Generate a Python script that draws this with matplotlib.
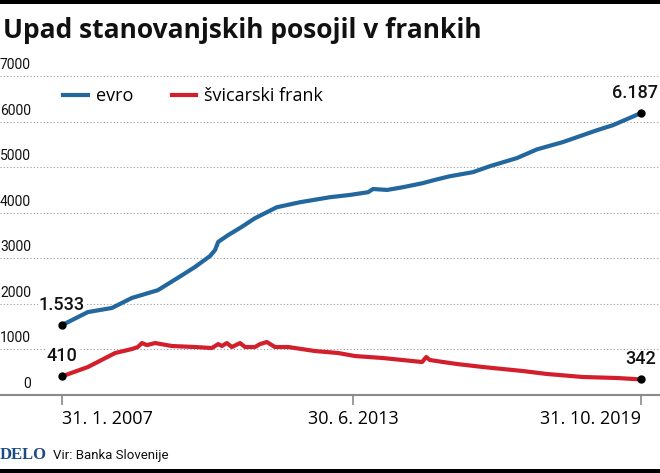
import matplotlib
matplotlib.use("Agg")
import matplotlib.pyplot as plt
from matplotlib.lines import Line2D
from matplotlib.patches import Rectangle

# podatki (odčitano s slike), čas v decimalnih letih
evro_t = [2007.08, 2007.65, 2008.18, 2008.62, 2009.19, 2009.63, 2010.01, 2010.34, 2010.45,
          2010.52, 2010.74, 2011.04, 2011.33, 2011.81, 2012.32, 2012.98, 2013.42, 2013.82,
          2013.93, 2014.24, 2014.59, 2015.03, 2015.25, 2015.62, 2016.13, 2016.50, 2017.10,
          2017.54, 2018.11, 2018.86, 2019.21, 2019.83]
evro_v = [1533, 1820, 1910, 2130, 2300, 2570, 2810, 3050, 3180,
          3360, 3510, 3690, 3880, 4120, 4230, 4340, 4390, 4450,
          4520, 4500, 4560, 4650, 4710, 4800, 4890, 5020, 5200,
          5390, 5550, 5810, 5920, 6187]

frank_t = [2007.08, 2007.65, 2008.25, 2008.62, 2008.75, 2008.84, 2008.95, 2009.13, 2009.50,
           2010.01, 2010.38, 2010.52, 2010.60, 2010.71, 2010.82, 2011.00, 2011.11, 2011.33,
           2011.44, 2011.59, 2011.77, 2012.06, 2012.65, 2013.16, 2013.53, 2014.15, 2015.01,
           2015.10, 2015.18, 2015.47, 2015.78, 2016.35, 2017.23, 2017.76, 2018.55, 2019.30,
           2019.83]
frank_v = [410, 614, 921, 1009, 1053, 1140, 1096, 1140, 1075,
           1053, 1031, 1118, 1075, 1140, 1053, 1140, 1053, 1053,
           1118, 1162, 1053, 1053, 965, 921, 855, 811, 724,
           833, 768, 724, 680, 614, 526, 461, 395, 373,
           342]

tick_t = [2007.08, 2013.49, 2019.83]
tick_labels = ["31. 1. 2007", "30. 6. 2013", "31. 10. 2019"]
y_ticks = [0, 1000, 2000, 3000, 4000, 5000, 6000, 7000]

BLUE = "#22679e"
RED = "#d21f2b"
W, H = 660, 473

fig = plt.figure(figsize=(6.6, 4.73), dpi=100)
ax = fig.add_axes([0, 78 / H, 1, 319 / H])

# os x v pikslih: 2007.08 -> 62 px, 2019.83 -> 641 px
ppy = (641 - 62) / (tick_t[2] - tick_t[0])
ax.set_xlim(tick_t[0] - 62 / ppy, tick_t[0] + (W - 62) / ppy)
ax.set_ylim(0, 7000)

ax.plot(evro_t, evro_v, color=BLUE, lw=3, solid_capstyle="round", zorder=3)
ax.plot(frank_t, frank_v, color=RED, lw=3, solid_capstyle="round", zorder=3)

for s in ["top", "left", "right"]:
    ax.spines[s].set_visible(False)
ax.spines["bottom"].set_color("#8a8a8a")
ax.spines["bottom"].set_linewidth(1.5)

ax.set_yticks(y_ticks[1:])
ax.set_yticklabels([])
ax.tick_params(axis="y", length=0)
ax.grid(axis="y", linestyle=(0, (1, 2)), color="#9a9a9a", lw=0.8)

ax.set_xticks(tick_t)
ax.set_xticklabels(tick_labels, fontsize=13, family="Open Sans")
ax.tick_params(axis="x", length=7, width=1.2, color="#8a8a8a", pad=4)
lbls = ax.get_xticklabels()
lbls[0].set_ha("left")
lbls[2].set_ha("right")

# oznake osi y nad mrežo
for v in y_ticks:
    ax.annotate(str(v), xy=(31, v), xycoords=("figure pixels", "data"),
                xytext=(0, 4), textcoords="offset pixels", ha="right", va="bottom",
                fontsize=10, family="Roboto", color="#111111")

# začetne in končne točke
pts = [(evro_t[0], evro_v[0], "1.533", 0), (evro_t[-1], evro_v[-1], "6.187", -6),
       (frank_t[0], frank_v[0], "410", 0), (frank_t[-1], frank_v[-1], "342", 0)]
for t, v, s, dx in pts:
    ax.plot([t], [v], "o", color="black", ms=5, clip_on=False, zorder=5)
    ax.annotate(s, xy=(t, v), xytext=(dx, 11), textcoords="offset pixels",
                ha="center", va="bottom", fontsize=13, family="Roboto", weight="medium",
                color="#111111", zorder=2,
                bbox=dict(boxstyle="square,pad=0.05", fc="white", ec="none"))

# legenda
def fx(px):
    return px / W

def fy(py):
    return 1 - py / H

fig.add_artist(Line2D([fx(63), fx(88)], [fy(95), fy(95)], color=BLUE, lw=3,
                      transform=fig.transFigure))
fig.text(fx(96), fy(96), "evro", fontsize=13, family="Open Sans", va="center")
fig.add_artist(Line2D([fx(172), fx(196)], [fy(95), fy(95)], color=RED, lw=3,
                      transform=fig.transFigure))
fig.text(fx(204), fy(96), "švicarski frank", fontsize=13, family="Open Sans", va="center")

# naslov
fig.text(fx(3), fy(30), "Upad stanovanjskih posojil v frankih", fontsize=19,
         family="Open Sans", weight="bold", va="center", color="#111111")

# noga
fig.text(fx(0), fy(455), "DELO", fontsize=12, family="Liberation Serif", weight="bold",
         color="#1c4a82", va="center")
fig.text(fx(53), fy(455), "Vir: Banka Slovenije", fontsize=9.5,
         family="Roboto", va="center", color="#111111")

fig.add_artist(Rectangle((0, 1 - 4 / H), 1, 4 / H, transform=fig.transFigure,
                         color="black", lw=0))
fig.add_artist(Rectangle((0, 0), 1, 4 / H, transform=fig.transFigure,
                         color="black", lw=0))

fig.savefig("out.png", dpi=100)
